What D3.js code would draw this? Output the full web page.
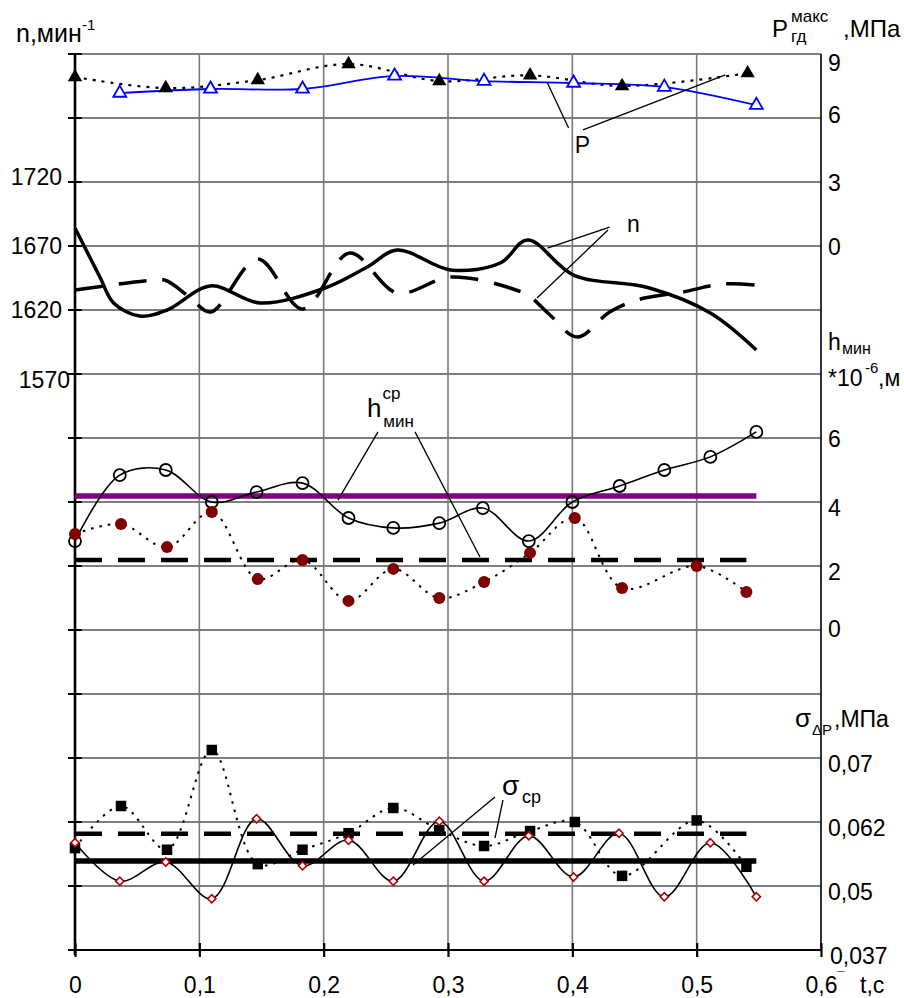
<!DOCTYPE html>
<html><head><meta charset="utf-8">
<script src="https://cdn.jsdelivr.net/npm/d3@7"></script>
<style>
body{margin:0;background:#fff}
svg{display:block}
text{font-family:"Liberation Sans",Arial,sans-serif;fill:#000}
</style>
</head><body>
<svg id="chart" width="904" height="998"></svg>
<script>
// ---------- DATA ----------
const xTicks = [0, 0.1, 0.2, 0.3, 0.4, 0.5, 0.6];
const xTickLabels = ["0", "0,1", "0,2", "0,3", "0,4", "0,5", "0,6"];
const nTicks = [1570, 1620, 1670, 1720];
const nTickLabels = ["1570", "1620", "1670", "1720"];
const pTicks = [0, 3, 6, 9];
const hTicks = [0, 2, 4, 6];
const sigmaTicks = [0.037, 0.05, 0.062, 0.07];
const sigmaTickLabels = ["0,037", "0,05", "0,062", "0,07"];

// P max (MPa): filled triangles (dotted) and open blue triangles
const pFilledT = [0, 0.073, 0.147, 0.22, 0.293, 0.366, 0.44, 0.541];
const pFilled  = [7.92, 7.4, 7.78, 8.53, 7.73, 8.0, 7.5, 8.1];
const pOpenT   = [0.036, 0.109, 0.183, 0.257, 0.329, 0.401, 0.474, 0.548];
const pOpen    = [7.17, 7.36, 7.36, 7.97, 7.73, 7.64, 7.45, 6.6];

// n (min^-1): solid and dashed curves
const nSolidT = [0, 0.02, 0.031, 0.052, 0.074, 0.109, 0.149, 0.201, 0.235, 0.259, 0.302, 0.342, 0.364, 0.401, 0.462, 0.511, 0.548];
const nSolid  = [1684, 1645.8, 1625.5, 1615.3, 1620, 1638.8, 1625.5, 1637.2, 1653.6, 1666.9, 1651.3, 1656.7, 1674.7, 1647.3, 1637.2, 1617.7, 1588.8];
const nDashT  = [0, 0.056, 0.072, 0.092, 0.109, 0.147, 0.183, 0.221, 0.259, 0.302, 0.35, 0.366, 0.382, 0.404, 0.43, 0.452, 0.489, 0.521, 0.548];
const nDash   = [1635.6, 1642.7, 1643.4, 1630.2, 1618.4, 1659.8, 1620.8, 1664.5, 1633.3, 1645.8, 1637.2, 1630.2, 1616.1, 1598.9, 1618.4, 1627.8, 1634.1, 1640.3, 1639.5];

// h min (*10^-6 m)
const hOpenT = [0, 0.036, 0.073, 0.110, 0.146, 0.183, 0.22, 0.256, 0.293, 0.328, 0.365, 0.4, 0.438, 0.474, 0.511, 0.548];
const hOpen  = [2.78, 4.84, 5.0, 4.0, 4.31, 4.59, 3.5, 3.19, 3.34, 3.81, 2.78, 4.0, 4.5, 5.0, 5.41, 6.19];
const hFilledT = [0, 0.037, 0.074, 0.110, 0.147, 0.183, 0.22, 0.256, 0.293, 0.329, 0.366, 0.402, 0.44, 0.5, 0.54];
const hFilled  = [3.0, 3.31, 2.59, 3.69, 1.59, 2.19, 0.91, 1.91, 1.0, 1.5, 2.41, 3.5, 1.31, 2.0, 1.19];
const hMeanOpen = 4.19, hMeanFilled = 2.19;

// sigma dP (MPa)
const sigmaSqT = [0, 0.037, 0.074, 0.110, 0.147, 0.183, 0.22, 0.256, 0.293, 0.329, 0.366, 0.402, 0.44, 0.5, 0.54];
const sigmaSq  = [0.0571, 0.064, 0.0568, 0.071, 0.0541, 0.0568, 0.0599, 0.06375, 0.0605, 0.0575, 0.0603, 0.062, 0.0519, 0.0622, 0.0536];
const sigmaDiaT = [0, 0.036, 0.073, 0.110, 0.146, 0.183, 0.22, 0.256, 0.293, 0.329, 0.365, 0.401, 0.4375, 0.474, 0.511, 0.548];
const sigmaDia  = [0.0581, 0.0509, 0.0545, 0.0474, 0.0624, 0.0538, 0.0586, 0.0509, 0.0621, 0.0509, 0.0594, 0.0517, 0.0599, 0.0478, 0.0581, 0.0478];
const sigmaMeanDia = 0.0547, sigmaMeanSq = 0.0598;
const meanEndLong = 0.548, meanEndShort = 0.54;

// ---------- LAYOUT ----------
const L = 75, R = 821, T = 54, B = 950;
const FS = 23;
const svg = d3.select("#chart");

const x = d3.scaleLinear().domain([0, 0.6]).range([L, R]);
const row = d3.scaleLinear().domain([0, 14]).range([B, T]);       // 14 equal grid rows
const yN = d3.scaleLinear().domain([1570, 1720]).range([row(9), row(12)]);
const yP = d3.scaleLinear().domain([0, 9]).range([row(11), row(14)]);
const yH = d3.scaleLinear().domain([0, 6]).range([row(5), row(8)]);
const yS = d3.scaleLinear().domain(sigmaTicks).range([row(0), row(1), row(2), row(3)]);

// ---------- GRID ----------
const g = svg.append("g");
g.selectAll(".hg").data(d3.range(0, 15)).join("line")
  .attr("x1", L).attr("x2", R).attr("y1", d => row(d)).attr("y2", d => row(d))
  .attr("stroke", "#000").attr("stroke-width", 1.2);
g.selectAll(".vg").data(xTicks.slice(1, -1)).join("line")
  .attr("x1", d => x(d)).attr("x2", d => x(d)).attr("y1", T).attr("y2", B)
  .attr("stroke", "#7a7a7a").attr("stroke-width", 1.6);

// right axis line
g.append("line").attr("x1", R).attr("x2", R).attr("y1", T).attr("y2", B).attr("stroke", "#000").attr("stroke-width", 1.6);

// left axis (ticks on every grid row)
g.append("line").attr("x1", L).attr("x2", L).attr("y1", T - 1).attr("y2", B + 5).attr("stroke", "#000").attr("stroke-width", 2.6);
g.selectAll(".lt").data(d3.range(0, 15)).join("line")
  .attr("x1", L - 7).attr("x2", L + 7).attr("y1", d => row(d)).attr("y2", d => row(d))
  .attr("stroke", "#000").attr("stroke-width", 2);

// bottom axis
const bottom = svg.append("g").attr("transform", `translate(0,${B})`)
  .call(d3.axisBottom(x).tickValues(xTicks).tickFormat((d, i) => xTickLabels[i]).tickSize(7).tickPadding(26));
bottom.select(".domain").attr("stroke", "#000").attr("stroke-width", 2.2).attr("d", `M${L},0H${R}`);
bottom.selectAll(".tick line").attr("y1", -7).attr("y2", 7).attr("stroke", "#000").attr("stroke-width", 2.2);
bottom.selectAll(".tick text").attr("font-size", FS).attr("font-family", "Liberation Sans, Arial, sans-serif")
  .attr("fill", "#000").attr("dy", 0).attr("y", 43);
// the small mark after "0,6"
svg.append("text").attr("x", x(0.6) + 16).attr("y", B + 32).attr("font-size", 14).text("¯");

// left tick labels (n)
svg.selectAll(".nl").data(nTicks).join("text")
  .attr("x", (d, i) => i === 0 ? 70 : 62)
  .attr("y", (d, i) => yN(d) + 8 + (i === 0 ? 6 : (i === 3 ? -5 : 0)))
  .attr("text-anchor", "end").attr("font-size", FS)
  .text((d, i) => nTickLabels[i]);

// right tick labels
const RX = 828;
svg.selectAll(".pl").data(pTicks).join("text")
  .attr("x", RX).attr("y", (d, i) => yP(d) + 9 + (d === 9 ? 8 : (d === 6 ? -4 : 0)))
  .attr("font-size", FS).text(d => d);
svg.selectAll(".hl").data(hTicks).join("text")
  .attr("x", RX).attr("y", d => yH(d) + 9 + (d === 0 ? -2 : (d === 6 ? 0 : 5)))
  .attr("font-size", FS).text(d => d);
svg.selectAll(".sl").data(sigmaTicks).join("text")
  .attr("x", (d, i) => i === 0 ? 830 : RX).attr("y", d => yS(d) + 14)
  .attr("font-size", FS).text((d, i) => sigmaTickLabels[i]);

// ---------- HELPERS ----------
const zip = (ts, vs) => ts.map((t, i) => [t, vs[i]]);
const curve = d3.curveCatmullRom.alpha(0.5);
function path(data, yScale, attrs) {
  const p = svg.append("path").datum(data)
    .attr("d", d3.line().x(d => x(d[0])).y(d => yScale(d[1])).curve(curve))
    .attr("fill", "none");
  Object.entries(attrs).forEach(([k, v]) => p.attr(k, v));
  return p;
}
function hline(v, t1, yScale, attrs) {
  const l = svg.append("line").attr("x1", x(0)).attr("x2", x(t1)).attr("y1", yScale(v)).attr("y2", yScale(v));
  Object.entries(attrs).forEach(([k, val]) => l.attr(k, val));
}
function leader(a, b, yScale) {
  svg.append("line").attr("x1", x(a[0])).attr("y1", yScale(a[1])).attr("x2", x(b[0])).attr("y2", yScale(b[1]))
    .attr("stroke", "#000").attr("stroke-width", 1.3);
}
function symbols(data, yScale, type, size, attrs, rot) {
  const s = svg.append("g").selectAll("path").data(data).join("path")
    .attr("transform", d => `translate(${x(d[0])},${yScale(d[1])})` + (rot ? ` rotate(${rot})` : ""))
    .attr("d", d3.symbol().type(type).size(size)());
  Object.entries(attrs).forEach(([k, v]) => s.attr(k, v));
}

// ---------- P SERIES ----------
path(zip(pFilledT, pFilled), yP, {stroke: "#000", "stroke-width": 2.2, "stroke-dasharray": "3,6"});
path(zip(pOpenT, pOpen), yP, {stroke: "#0000ff", "stroke-width": 1.8});
symbols(zip(pFilledT, pFilled), yP, d3.symbolTriangle, 90, {fill: "#000"});
symbols(zip(pOpenT, pOpen), yP, d3.symbolTriangle, 72, {fill: "#fff", stroke: "#0000ff", "stroke-width": 1.8});
svg.append("text").attr("x", x(0.402)).attr("y", yP(4.36)).attr("font-size", FS).text("P");
leader([0.397, 5.53], [0.380, 7.64], yP);
leader([0.4086, 5.44], [0.523, 8.02], yP);

// ---------- n SERIES ----------
path(zip(nSolidT, nSolid), yN, {stroke: "#000", "stroke-width": 3.5});
path(zip(nDashT, nDash), yN, {stroke: "#000", "stroke-width": 3.5, "stroke-dasharray": "28,16"});
svg.append("text").attr("x", x(0.444)).attr("y", yN(1680.9)).attr("font-size", FS).text("n");
leader([0.430, 1684.8], [0.380, 1668.4], yN);
leader([0.4287, 1682.5], [0.3716, 1629.4], yN);

// ---------- h SERIES ----------
hline(hMeanOpen, meanEndLong, yH, {stroke: "#800080", "stroke-width": 5.5});
hline(hMeanFilled, meanEndShort, yH, {stroke: "#000", "stroke-width": 4.5, "stroke-dasharray": "27,16"});
path(zip(hOpenT, hOpen), yH, {stroke: "#000", "stroke-width": 1.6});
path(zip(hFilledT, hFilled), yH, {stroke: "#000", "stroke-width": 2, "stroke-dasharray": "2.5,6"});
svg.append("g").selectAll("circle").data(zip(hOpenT, hOpen)).join("circle")
  .attr("cx", d => x(d[0])).attr("cy", d => yH(d[1])).attr("r", 6)
  .attr("fill", "none").attr("stroke", "#000").attr("stroke-width", 1.8);
svg.append("g").selectAll("circle").data(zip(hFilledT, hFilled)).join("circle")
  .attr("cx", d => x(d[0])).attr("cy", d => yH(d[1])).attr("r", 6)
  .attr("fill", "#800000");
// label h (ср / мин)
svg.append("text").attr("x", x(0.2349)).attr("y", yH(6.66)).attr("font-size", 26).text("h");
svg.append("text").attr("x", x(0.2473)).attr("y", yH(7.22)).attr("font-size", 17).text("ср");
svg.append("text").attr("x", x(0.2479)).attr("y", yH(6.34)).attr("font-size", 17).text("мин");
leader([0.2437, 6.19], [0.2115, 4.06], yH);
leader([0.2735, 6.19], [0.3257, 2.28], yH);

// ---------- SIGMA SERIES ----------
hline(sigmaMeanDia, meanEndLong, yS, {stroke: "#000", "stroke-width": 5.5});
hline(sigmaMeanSq, meanEndShort, yS, {stroke: "#000", "stroke-width": 4.5, "stroke-dasharray": "27,16"});
path(zip(sigmaSqT, sigmaSq), yS, {stroke: "#000", "stroke-width": 2, "stroke-dasharray": "2.5,6"});
path(zip(sigmaDiaT, sigmaDia), yS, {stroke: "#000", "stroke-width": 1.6});
symbols(zip(sigmaSqT, sigmaSq), yS, d3.symbolSquare, 110, {fill: "#000"});
symbols(zip(sigmaDiaT, sigmaDia), yS, d3.symbolSquare, 34, {fill: "#fff", stroke: "#b00000", "stroke-width": 1.6}, 45);
svg.append("text").attr("x", x(0.3434)).attr("y", yS(0.06538)).attr("font-size", 28).text("σ");
svg.append("text").attr("x", x(0.3595)).attr("y", yS(0.06438)).attr("font-size", 18).text("ср");
leader([0.3378, 0.06513], [0.2719, 0.05394], yS);
leader([0.3442, 0.06475], [0.3378, 0.0590], yS);

// ---------- AXIS TITLES ----------
svg.append("text").attr("x", 16).attr("y", 42).attr("font-size", 25).text("n,мин");
svg.append("text").attr("x", 82).attr("y", 30).attr("font-size", 15).text("-1");

svg.append("text").attr("x", 772).attr("y", 37).attr("font-size", 24).text("P");
svg.append("text").attr("x", 791).attr("y", 22).attr("font-size", 17).text("макс");
svg.append("text").attr("x", 791).attr("y", 42).attr("font-size", 17).text("гд");
svg.append("text").attr("x", 843).attr("y", 37).attr("font-size", 24).text(",МПа");

svg.append("text").attr("x", 828).attr("y", 350).attr("font-size", FS).text("h");
svg.append("text").attr("x", 842).attr("y", 354).attr("font-size", 16).text("мин");
svg.append("text").attr("x", 828).attr("y", 386).attr("font-size", FS).text("*10");
svg.append("text").attr("x", 865).attr("y", 373).attr("font-size", 15).text("-6");
svg.append("text").attr("x", 878).attr("y", 386).attr("font-size", FS).text(",м");

svg.append("text").attr("x", 795).attr("y", 727).attr("font-size", 26).text("σ");
svg.append("text").attr("x", 812).attr("y", 735).attr("font-size", 15).text("ΔP");
svg.append("text").attr("x", 834).attr("y", 727).attr("font-size", FS).text(",МПа");

svg.append("text").attr("x", 860).attr("y", 993).attr("font-size", FS).text("t,c");
</script>
</body></html>
